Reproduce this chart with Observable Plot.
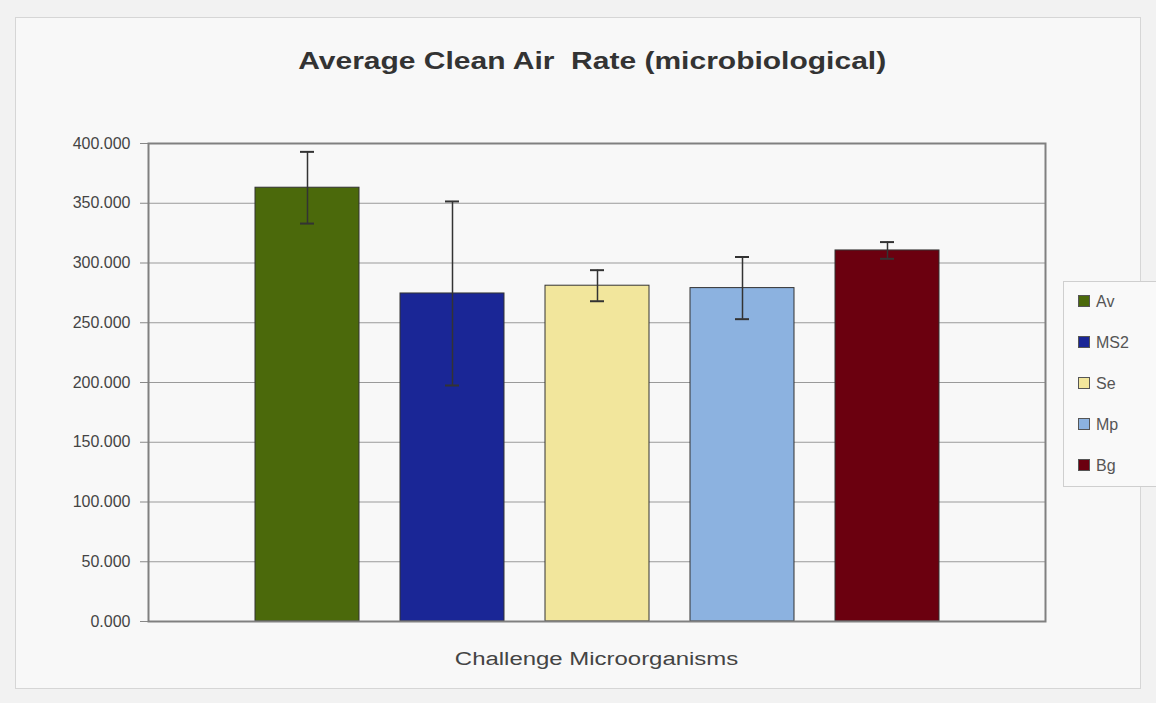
<!DOCTYPE html>
<html>
<head>
<meta charset="utf-8">
<script src="https://cdn.jsdelivr.net/npm/d3@7"></script>
<script src="https://cdn.jsdelivr.net/npm/@observablehq/plot@0.6"></script>
<style>
  html, body { margin: 0; padding: 0; background: #f2f2f2; }
  #wrap { position: relative; width: 1156px; height: 703px; overflow: hidden; font-family: "Liberation Sans", Arial, sans-serif; }
  #area { position: absolute; left: 15px; top: 17px; width: 1124px; height: 670px; background: #f8f8f8; border: 1px solid #d6d6d6; }
  #title { position: absolute; left: 0; width: 1184px; top: 47px; text-align: center; font-weight: bold; font-size: 24px; color: #333; }
  #title span { display: inline-block; transform: scaleX(1.25); }
  #xlabel { position: absolute; left: 0; width: 1194px; top: 649px; text-align: center; font-size: 18px; color: #444; }
  #xlabel span { display: inline-block; transform: scaleX(1.33); }
  #legend { position: absolute; left: 1063px; top: 281px; width: 110px; height: 204px; border: 1px solid #cfcfcf; background: #f9f9f9; }
  .li { position: absolute; left: 14px; height: 20px; font-size: 16px; color: #555; line-height: 20px; }
  .sw { display: inline-block; width: 10px; height: 10px; border: 1px solid #555; vertical-align: middle; margin-right: 6px; margin-top: -3px; }
  #chart { position: absolute; left: 0; top: 0; }
</style>
</head>
<body>
<div id="wrap">
  <div id="area"></div>
  <div id="chart"></div>
  <div id="title"><span>Average Clean Air&nbsp; Rate (microbiological)</span></div>
  <div id="xlabel"><span>Challenge Microorganisms</span></div>
  <div id="legend"></div>
</div>
<script>
const series = ["Av", "MS2", "Se", "Mp", "Bg"];
const means = [363, 274.5, 281, 279, 310.5];
const errors = [30, 77, 13, 26, 7];
const colors = ["#4b690b", "#1a2696", "#f2e69c", "#8cb2e0", "#6b000f"];
const yTicks = [0, 50, 100, 150, 200, 250, 300, 350, 400];

const data = series.map((s, i) => ({series: s, value: means[i], err: errors[i]}));

const chart = Plot.plot({
  width: 1156,
  height: 703,
  marginTop: 143,
  marginBottom: 82,
  marginLeft: 148,
  marginRight: 111,
  style: { background: "transparent", fontFamily: "Liberation Sans, Arial, sans-serif" },
  x: { type: "band", domain: series, range: [212, 983], padding: 0.281, axis: null },
  y: { domain: [0, 400], axis: null },
  color: { domain: series, range: colors },
  marks: [
    Plot.ruleY(yTicks.filter(d => d > 0 && d < 400), { stroke: "#9a9a9a", strokeWidth: 1.2 }),
    Plot.axisY({ ticks: yTicks, tickFormat: d3.format(".3f"), tickSize: 8, tickPadding: 10, fontSize: 16, color: "#444", stroke: "#888", label: null }),
    Plot.barY(data, { x: "series", y: "value", fill: "series", stroke: "#333", strokeWidth: 1 }),
    Plot.ruleX(data, { x: "series", y1: d => d.value - d.err, y2: d => d.value + d.err, stroke: "#333", strokeWidth: 1.5 }),
    Plot.tickY(data, { x: "series", y: d => d.value + d.err, stroke: "#333", strokeWidth: 2, insetLeft: 45, insetRight: 45 }),
    Plot.tickY(data, { x: "series", y: d => d.value - d.err, stroke: "#333", strokeWidth: 2, insetLeft: 45, insetRight: 45 }),
    Plot.frame({ stroke: "#808080", strokeWidth: 2 })
  ]
});
document.getElementById("chart").appendChild(chart);

const legend = document.getElementById("legend");
series.forEach((s, i) => {
  const item = document.createElement("div");
  item.className = "li";
  item.style.top = (10 + i * 41) + "px";
  const sw = document.createElement("span");
  sw.className = "sw";
  sw.style.background = colors[i];
  item.appendChild(sw);
  item.appendChild(document.createTextNode(s));
  legend.appendChild(item);
});
</script>
</body>
</html>
